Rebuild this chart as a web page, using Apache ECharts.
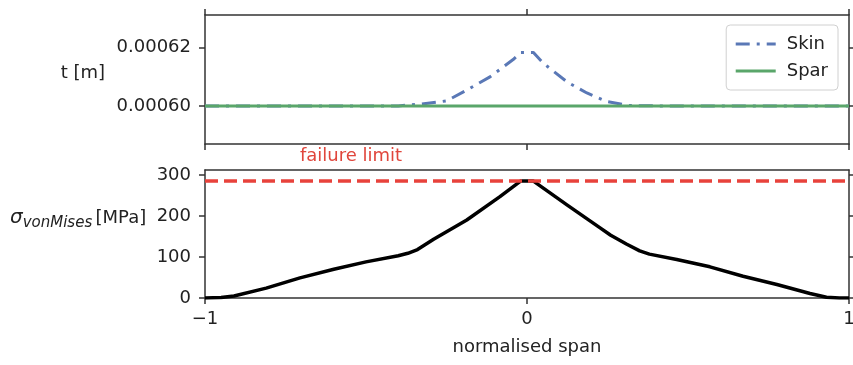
<!DOCTYPE html>
<html>
<head>
<meta charset="utf-8">
<script src="https://cdn.jsdelivr.net/npm/echarts@6/dist/echarts.min.js"></script>
<style>
  html, body { margin: 0; padding: 0; background: #fff; }
  #chart { width: 853px; height: 365px; }
</style>
</head>
<body>
<div id="chart"></div>
<script>
// span positions (normalised) for thickness
const spanX = [-1, -0.6, -0.4, -0.33, -0.25, -0.19, -0.115, -0.043, -0.02,
    0.02, 0.05, 0.124, 0.186, 0.248, 0.32, 0.4, 0.6, 1];
// thickness [m]
const skinT = [0.0006, 0.0006, 0.0006, 0.6006e-3, 0.6017e-3, 0.6052e-3, 0.6099e-3, 0.6158e-3, 0.6182e-3,
    0.6182e-3, 0.6146e-3, 0.6082e-3, 0.6044e-3, 0.6015e-3, 0.6001e-3, 0.0006, 0.0006, 0.0006];
const sparT = [0.0006, 0.0006, 0.0006, 0.0006, 0.0006, 0.0006, 0.0006, 0.0006, 0.0006,
    0.0006, 0.0006, 0.0006, 0.0006, 0.0006, 0.0006, 0.0006, 0.0006, 0.0006];
// von Mises stress [MPa]
const stressX = [-1, -0.95, -0.91, -0.81, -0.705, -0.6, -0.5, -0.4, -0.37, -0.34, -0.29, -0.187, -0.084, -0.02,
    0.02, 0.124, 0.227, 0.26, 0.31, 0.35, 0.38, 0.465, 0.568, 0.671, 0.776, 0.879, 0.93, 0.97, 1];
const stress = [0, 1, 5, 24, 49, 70, 88, 103, 109, 118, 143, 190, 247, 285,
    285, 227, 171, 153, 131, 115, 107, 94, 76, 53, 33, 11, 2, 0, 0];
const failureLimit = 285;

const yTicksT = [0.0006, 0.00062];
const yTicksS = [0, 100, 200, 300];
const xTicks = [-1, 0, 1];

const FONT = 'DejaVu Sans';
const AX = '#333';

function pairs(xs, ys) {
    return xs.map((x, i) => [x, ys[i]]);
}
const minus = v => String(v).replace('-', '\u2212');

const axLine = { show: true, onZero: false, lineStyle: { color: AX, width: 1.5 } };
const tick = (vals) => ({ show: true, length: 6, lineStyle: { color: AX, width: 1.5 }, customValues: vals });
const noLabel = { show: false };

const chart = echarts.init(document.getElementById('chart'));
chart.setOption({
    animation: false,
    textStyle: { fontFamily: FONT },
    grid: [
        { left: 205, top: 15, right: 4, height: 129, outerBoundsMode: 'none', containLabel: false },
        { left: 205, top: 170, right: 4, height: 128, outerBoundsMode: 'none', containLabel: false }
    ],
    legend: {
        right: 15, top: 25,
        orient: 'vertical',
        itemWidth: 40, itemHeight: 14, itemGap: 9,
        padding: [10, 10, 10, 8],
        borderColor: '#d0d0d0', borderWidth: 1, borderRadius: 4,
        backgroundColor: 'rgba(255,255,255,0.8)',
        itemStyle: { opacity: 0 },
        lineStyle: { width: 3 },
        textStyle: { fontFamily: FONT, fontSize: 18, color: '#222', padding: [0, 0, 0, 6] },
        data: ['Skin', 'Spar']
    },
    xAxis: [
        { gridIndex: 0, type: 'value', min: -1, max: 1, interval: 1, position: 'bottom',
          axisLine: axLine, axisTick: tick(xTicks), axisLabel: noLabel, splitLine: { show: false } },
        { gridIndex: 0, type: 'value', min: -1, max: 1, interval: 1, position: 'top',
          axisLine: axLine, axisTick: tick(xTicks), axisLabel: noLabel, splitLine: { show: false } },
        { gridIndex: 1, type: 'value', min: -1, max: 1, interval: 1, position: 'bottom',
          axisLine: axLine, axisTick: tick(xTicks),
          axisLabel: { show: true, margin: 12, fontFamily: FONT, fontSize: 18, color: '#222', formatter: minus },
          splitLine: { show: false },
          name: 'normalised span', nameLocation: 'middle', nameGap: 40,
          nameTextStyle: { fontFamily: FONT, fontSize: 18, color: '#222' } },
        { gridIndex: 1, type: 'value', min: -1, max: 1, position: 'top',
          axisLine: axLine, axisTick: { show: false }, axisLabel: noLabel, splitLine: { show: false } }
    ],
    yAxis: [
        { gridIndex: 0, type: 'value', min: 0.000587, max: 0.000631, position: 'left',
          axisLine: axLine, axisTick: tick(yTicksT),
          axisLabel: { show: true, margin: 14, fontFamily: FONT, fontSize: 18, color: '#222',
                       customValues: yTicksT, formatter: v => v.toFixed(5) },
          splitLine: { show: false } },
        { gridIndex: 0, type: 'value', min: 0.000587, max: 0.000631, position: 'right',
          axisLine: axLine, axisTick: tick(yTicksT), axisLabel: noLabel, splitLine: { show: false } },
        { gridIndex: 1, type: 'value', min: 0, max: 312, position: 'left',
          axisLine: axLine, axisTick: tick(yTicksS),
          axisLabel: { show: true, margin: 14, fontFamily: FONT, fontSize: 18, color: '#222',
                       customValues: yTicksS },
          splitLine: { show: false } },
        { gridIndex: 1, type: 'value', min: 0, max: 312, position: 'right',
          axisLine: axLine, axisTick: tick(yTicksS), axisLabel: noLabel, splitLine: { show: false } }
    ],
    series: [
        { name: 'Skin', type: 'line', xAxisIndex: 0, yAxisIndex: 0, showSymbol: false, symbol: 'none',
          data: pairs(spanX, skinT), z: 3,
          lineStyle: { color: '#5a78b6', width: 3, type: [14, 7, 3, 7] }, itemStyle: { color: '#5a78b6' } },
        { name: 'Spar', type: 'line', xAxisIndex: 0, yAxisIndex: 0, showSymbol: false, symbol: 'none',
          data: pairs(spanX, sparT), z: 4,
          lineStyle: { color: '#5aa66a', width: 3 }, itemStyle: { color: '#5aa66a' } },
        { name: 'stress', type: 'line', xAxisIndex: 2, yAxisIndex: 2, showSymbol: false, symbol: 'none',
          data: pairs(stressX, stress), z: 4,
          lineStyle: { color: '#000', width: 3.5, join: 'round' },
          markLine: {
              silent: true, symbol: 'none', label: { show: false },
              lineStyle: { color: '#e8423b', width: 3.5, type: [13, 6] },
              data: [{ yAxis: failureLimit }]
          } }
    ],
    graphic: [
        { type: 'text', left: 300, top: 147,
          style: { text: 'failure limit', fontFamily: FONT, fontSize: 18, fill: '#e0463c' } },
        { type: 'text', right: 748, top: 64,
          style: { text: 't [m]', fontFamily: FONT, fontSize: 18, fill: '#222', align: 'right' } },
        { type: 'text', left: 10, top: 208,
          style: {
              text: '{s|\u03c3}{sub|vonMises} {n|[MPa]}',
              fill: '#222',
              rich: {
                  s: { fontFamily: FONT, fontSize: 20, fontStyle: 'italic', fill: '#222' },
                  sub: { fontFamily: FONT, fontSize: 15, fontStyle: 'italic', fill: '#222', padding: [10, 0, 0, 0] },
                  n: { fontFamily: FONT, fontSize: 18, fill: '#222' }
              }
          } }
    ]
});
</script>
</body>
</html>
